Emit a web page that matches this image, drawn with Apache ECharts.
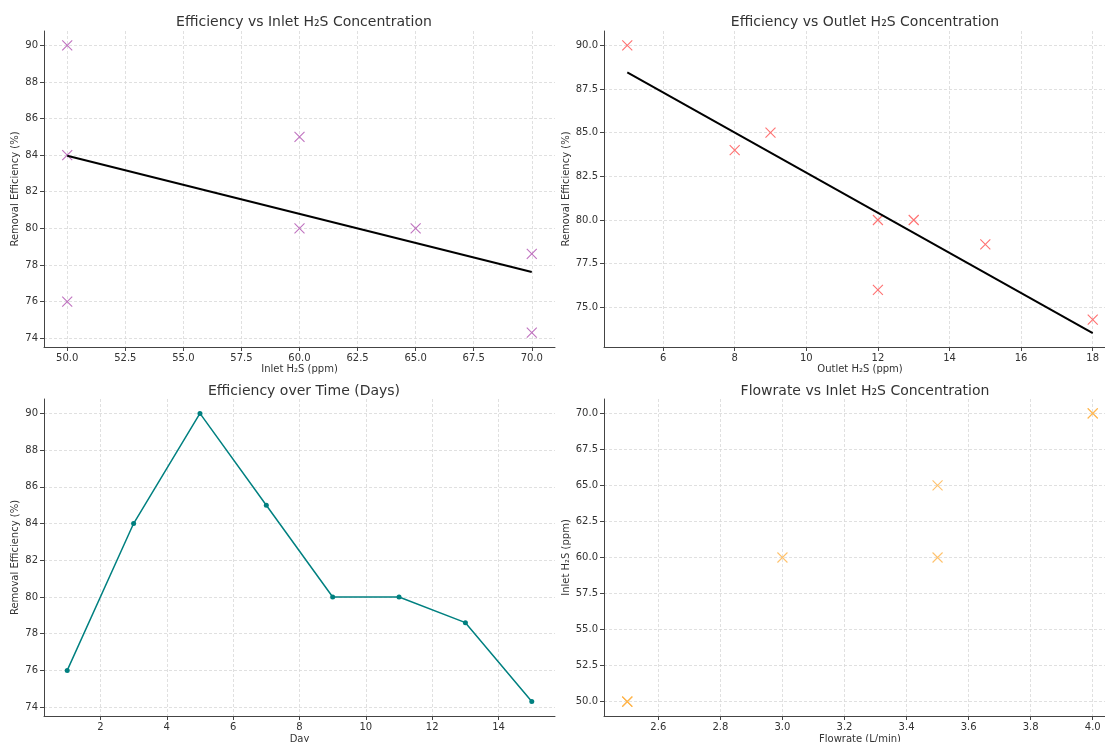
<!DOCTYPE html>
<html>
<head>
<meta charset="utf-8">
<title>H2S removal efficiency</title>
<script src="https://cdn.jsdelivr.net/npm/echarts@6/dist/echarts.min.js"></script>
<style>
  html, body { margin: 0; padding: 0; background: #fff; }
  #chart { width: 1105px; height: 742px; }
</style>
</head>
<body>
<div id="chart"></div>
<script>
// data
const days = [1, 3, 5, 7, 9, 11, 13, 15];
const efficiency = [76, 84, 90, 85, 80, 80, 78.6, 74.3];
const inletH2S = [50, 50, 50, 60, 60, 65, 70, 70];
const outletH2S = [12, 8, 5, 9, 12, 13, 15, 18];
const flowrate = [2.5, 2.5, 2.5, 3.0, 3.5, 3.5, 4.0, 4.0];

// trend lines (endpoints)
const inletFitX = [50, 70];
const inletFitY = [83.97, 77.61];
const outletFitX = [5, 18];
const outletFitY = [88.45, 73.53];

// tick labels
const inletTicks = [50, 52.5, 55, 57.5, 60, 62.5, 65, 67.5, 70];
const effTicks = [74, 76, 78, 80, 82, 84, 86, 88, 90];
const outletTicks = [6, 8, 10, 12, 14, 16, 18];
const effTicks2 = [75, 77.5, 80, 82.5, 85, 87.5, 90];
const dayTicks = [2, 4, 6, 8, 10, 12, 14];
const flowTicks = [2.6, 2.8, 3.0, 3.2, 3.4, 3.6, 3.8, 4.0];
const inletTicks2 = [50, 52.5, 55, 57.5, 60, 62.5, 65, 67.5, 70];

const FONT = 'DejaVu Sans';
const CROSS = 'path://M0,0L10,10M10,0L0,10';

const pairs = (xs, ys) => xs.map((x, i) => [x, ys[i]]);

function axis(gridIndex, min, max, ticks, decimals, name, nameGap) {
  return {
    type: 'value',
    gridIndex,
    min,
    max,
    name,
    nameLocation: 'middle',
    nameGap,
    nameTextStyle: { fontFamily: FONT, fontSize: 10, color: '#333' },
    axisLine: { show: true, onZero: false, lineStyle: { color: '#444', width: 1 } },
    axisTick: { show: true, length: 4, customValues: ticks, lineStyle: { color: '#444' } },
    axisLabel: {
      customValues: ticks,
      margin: 6,
      fontFamily: FONT,
      fontSize: 10,
      color: '#333',
      formatter: v => v.toFixed(decimals)
    },
    splitLine: {
      show: true,
      lineStyle: { color: '#d8d8d8', width: 0.8, type: [3, 2] }
    }
  };
}

function cross(xi, color, data) {
  return {
    type: 'scatter',
    xAxisIndex: xi,
    yAxisIndex: xi,
    symbol: CROSS,
    symbolSize: 10,
    itemStyle: { color: 'rgba(0,0,0,0)', borderColor: color, borderWidth: 1.1 },
    data
  };
}

function title(text, left, top) {
  return {
    text,
    left,
    top,
    textAlign: 'center',
    textStyle: { fontFamily: FONT, fontSize: 14, fontWeight: 'normal', color: '#333' }
  };
}

const chart = echarts.init(document.getElementById('chart'));
chart.setOption({
  animation: false,
  backgroundColor: '#fff',
  title: [
    title('Efficiency vs Inlet H₂S Concentration', 299, 10),
    title('Efficiency vs Outlet H₂S Concentration', 860, 10),
    title('Efficiency over Time (Days)', 299, 379),
    title('Flowrate vs Inlet H₂S Concentration', 860, 379)
  ],
  grid: [
    { left: 44, top: 31, width: 511, height: 316, outerBoundsMode: 'none' },
    { left: 604, top: 31, width: 512, height: 316, outerBoundsMode: 'none' },
    { left: 44, top: 399, width: 511, height: 317, outerBoundsMode: 'none' },
    { left: 604, top: 399, width: 512, height: 317, outerBoundsMode: 'none' }
  ],
  xAxis: [
    axis(0, 49, 71, inletTicks, 1, 'Inlet H₂S (ppm)', 17),
    axis(1, 4.35, 18.65, outletTicks, 0, 'Outlet H₂S (ppm)', 17),
    axis(2, 0.3, 15.7, dayTicks, 0, 'Day', 18),
    axis(3, 2.425, 4.075, flowTicks, 1, 'Flowrate (L/min)', 18)
  ],
  yAxis: [
    axis(0, 73.515, 90.785, effTicks, 0, 'Removal Efficiency (%)', 24),
    axis(1, 72.73, 90.82, effTicks2, 1, 'Removal Efficiency (%)', 32),
    axis(2, 73.515, 90.785, effTicks, 0, 'Removal Efficiency (%)', 24),
    axis(3, 49, 71, inletTicks2, 1, 'Inlet H₂S (ppm)', 32)
  ],
  series: [
    cross(0, '#b050b0', pairs(inletH2S, efficiency)),
    {
      type: 'line',
      xAxisIndex: 0,
      yAxisIndex: 0,
      showSymbol: false,
      lineStyle: { color: '#000', width: 2 },
      data: pairs(inletFitX, inletFitY)
    },
    cross(1, '#ff4d4d', pairs(outletH2S, efficiency)),
    {
      type: 'line',
      xAxisIndex: 1,
      yAxisIndex: 1,
      showSymbol: false,
      lineStyle: { color: '#000', width: 2 },
      data: pairs(outletFitX, outletFitY)
    },
    {
      type: 'line',
      xAxisIndex: 2,
      yAxisIndex: 2,
      symbol: 'circle',
      symbolSize: 5,
      itemStyle: { color: '#008080' },
      lineStyle: { color: '#008080', width: 1.5 },
      data: pairs(days, efficiency)
    },
    cross(3, '#ffb347', pairs(flowrate, inletH2S))
  ]
});
</script>
</body>
</html>
